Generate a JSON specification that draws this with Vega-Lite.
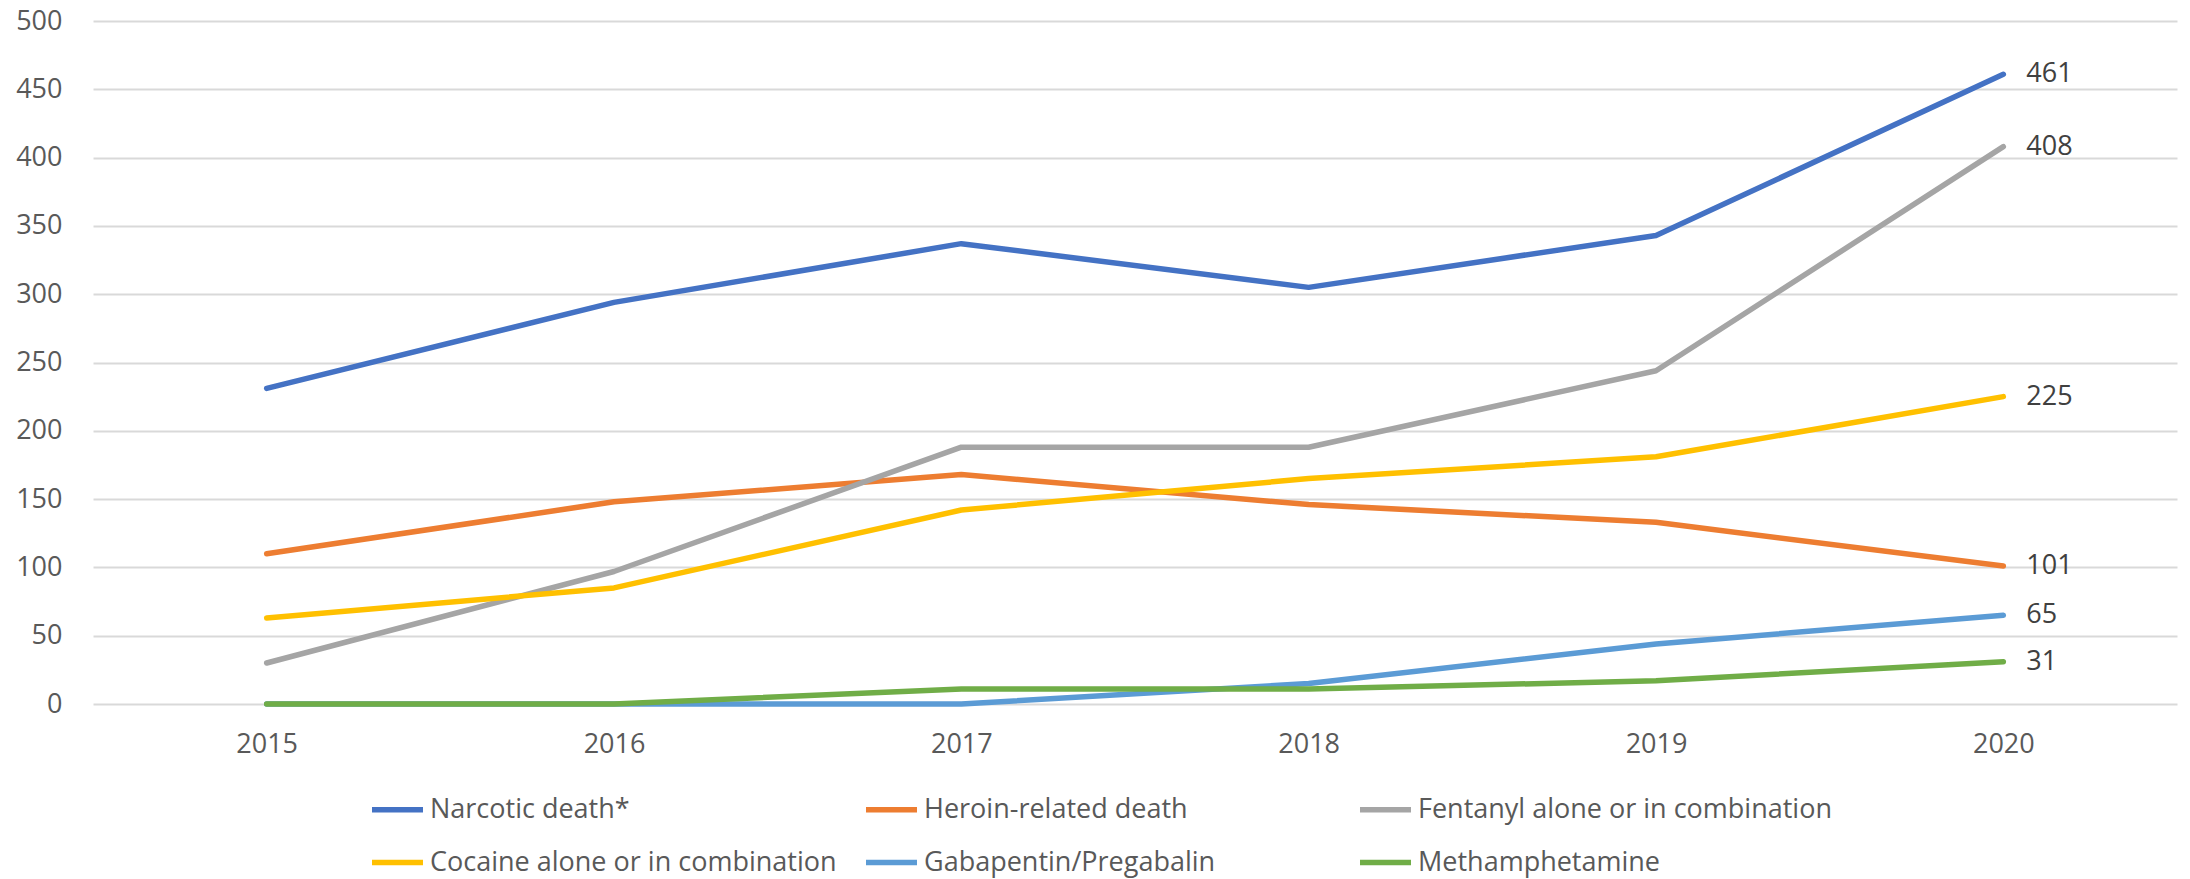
{
  "$schema": "https://vega.github.io/schema/vega-lite/v6.json",
  "width": 2084,
  "height": 683,
  "autosize": "none",
  "padding": {"left": 93, "top": 21, "right": 13, "bottom": 175},
  "background": "white",
  "config": {"view": {"stroke": null}, "font": "Open Sans"},
  "data": {
    "values": [
      {"year": 2015, "series": "Narcotic death*", "value": 231},
      {"year": 2016, "series": "Narcotic death*", "value": 294},
      {"year": 2017, "series": "Narcotic death*", "value": 337},
      {"year": 2018, "series": "Narcotic death*", "value": 305},
      {"year": 2019, "series": "Narcotic death*", "value": 343},
      {"year": 2020, "series": "Narcotic death*", "value": 461},
      {"year": 2015, "series": "Heroin-related death", "value": 110},
      {"year": 2016, "series": "Heroin-related death", "value": 148},
      {"year": 2017, "series": "Heroin-related death", "value": 168},
      {"year": 2018, "series": "Heroin-related death", "value": 146},
      {"year": 2019, "series": "Heroin-related death", "value": 133},
      {"year": 2020, "series": "Heroin-related death", "value": 101},
      {"year": 2015, "series": "Fentanyl alone or in combination", "value": 30},
      {"year": 2016, "series": "Fentanyl alone or in combination", "value": 97},
      {"year": 2017, "series": "Fentanyl alone or in combination", "value": 188},
      {"year": 2018, "series": "Fentanyl alone or in combination", "value": 188},
      {"year": 2019, "series": "Fentanyl alone or in combination", "value": 244},
      {"year": 2020, "series": "Fentanyl alone or in combination", "value": 408},
      {"year": 2015, "series": "Cocaine alone or in combination", "value": 63},
      {"year": 2016, "series": "Cocaine alone or in combination", "value": 85},
      {"year": 2017, "series": "Cocaine alone or in combination", "value": 142},
      {"year": 2018, "series": "Cocaine alone or in combination", "value": 165},
      {"year": 2019, "series": "Cocaine alone or in combination", "value": 181},
      {"year": 2020, "series": "Cocaine alone or in combination", "value": 225},
      {"year": 2015, "series": "Gabapentin/Pregabalin", "value": 0},
      {"year": 2016, "series": "Gabapentin/Pregabalin", "value": 0},
      {"year": 2017, "series": "Gabapentin/Pregabalin", "value": 0},
      {"year": 2018, "series": "Gabapentin/Pregabalin", "value": 15},
      {"year": 2019, "series": "Gabapentin/Pregabalin", "value": 44},
      {"year": 2020, "series": "Gabapentin/Pregabalin", "value": 65},
      {"year": 2015, "series": "Methamphetamine", "value": 0},
      {"year": 2016, "series": "Methamphetamine", "value": 0},
      {"year": 2017, "series": "Methamphetamine", "value": 11},
      {"year": 2018, "series": "Methamphetamine", "value": 11},
      {"year": 2019, "series": "Methamphetamine", "value": 17},
      {"year": 2020, "series": "Methamphetamine", "value": 31}
    ]
  },
  "encoding": {
    "x": {
      "field": "year",
      "type": "ordinal",
      "scale": {"type": "point", "padding": 0.5},
      "axis": {
        "title": null,
        "labelAngle": 0,
        "domain": false,
        "ticks": false,
        "grid": false,
        "labelFont": "Open Sans",
        "labelFontSize": 27,
        "labelColor": "#595959",
        "labelPadding": 27
      }
    },
    "y": {
      "field": "value",
      "type": "quantitative",
      "scale": {"domain": [0, 500], "nice": false},
      "axis": {
        "title": null,
        "values": [0, 50, 100, 150, 200, 250, 300, 350, 400, 450, 500],
        "domain": false,
        "ticks": false,
        "gridColor": "#D9D9D9",
        "gridWidth": 2,
        "labelFont": "Open Sans",
        "labelFontSize": 27,
        "labelColor": "#595959",
        "labelPadding": 31
      }
    }
  },
  "layer": [
    {
      "mark": {"type": "line", "strokeWidth": 5.5, "strokeCap": "round", "strokeJoin": "round"},
      "encoding": {
        "color": {
          "field": "series",
          "type": "nominal",
          "sort": null,
          "scale": {
            "domain": ["Narcotic death*", "Heroin-related death", "Fentanyl alone or in combination", "Cocaine alone or in combination", "Gabapentin/Pregabalin", "Methamphetamine"],
            "range": ["#4472C4", "#ED7D31", "#A5A5A5", "#FFC000", "#5B9BD5", "#70AD47"]
          },
          "legend": {
            "title": null,
            "orient": "none",
            "direction": "horizontal",
            "legendX": 276,
            "legendY": 760,
            "columns": 3,
            "gridAlign": "all",
            "columnPadding": 11,
            "rowPadding": 11,
            "symbolType": "stroke",
            "symbolSize": 2600,
            "symbolStrokeWidth": 5.5,
            "labelFont": "Open Sans",
            "labelFontSize": 27,
            "labelColor": "#595959",
            "labelOffset": 4,
            "labelLimit": 0
          }
        }
      }
    },
    {
      "transform": [{"filter": "datum.year == 2020"}],
      "mark": {"type": "text", "align": "left", "baseline": "middle", "dx": 23, "font": "Open Sans", "fontSize": 27, "color": "#404040"},
      "encoding": {"text": {"field": "value", "type": "quantitative"}}
    }
  ]
}
